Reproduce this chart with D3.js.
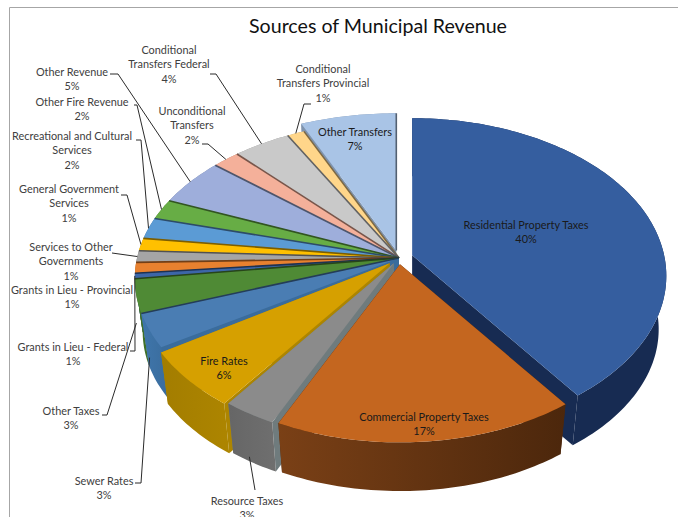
<!DOCTYPE html>
<html lang="en">
<head>
<meta charset="utf-8">
<title>Sources of Municipal Revenue</title>
<script src="https://d3js.org/d3.v7.min.js"></script>
<style>
  html, body { margin: 0; background: #fff; }
  text { font-family: Lato, "Open Sans", sans-serif; }
</style>
</head>
<body>
<div id="chart"></div>
<script>
// data, clockwise from 12 o'clock
var categories = ["Residential Property Taxes", "Commercial Property Taxes", "Resource Taxes", "Fire Rates",
  "Sewer Rates", "Other Taxes", "Grants in Lieu - Federal", "Grants in Lieu - Provincial",
  "Services to Other Governments", "General Government Services", "Recreational and Cultural Services",
  "Other Fire Revenue", "Other Revenue", "Unconditional Transfers", "Conditional Transfers Federal",
  "Conditional Transfers Provincial", "Other Transfers"];
var shares = [40, 17, 3, 6, 3.45, 3.45, 0.55, 1.1, 1.2, 1.3, 2.2, 2.1, 4.9, 1.9, 4, 1.2, 6.65];
var shareLabels = ["40%", "17%", "3%", "6%", "3%", "3%", "1%", "1%", "1%", "1%", "2%", "2%", "5%", "2%", "4%", "1%", "7%"];

var topColors = ["#355e9f", "#c4661f", "#8b8b8b", "#d6a000", "#4a7db3", "#4f8a35", "#3d66a8", "#e8812f",
  "#a5a5a5", "#ffc000", "#5b9bd5", "#67ad45", "#9eaedb", "#f4b09a", "#c9c9c9", "#ffd68a", "#a9c4e6"];
var wallColors = [["#172b52", "#172b52"], ["#7a4016", "#4c270c"], ["#666666", "#6f6f6f"], ["#a37d00", "#ad8500"],
  ["#3f76ac", "#3a6c9c"], ["#3f7029", "#3f7029"], ["#2f4f85", "#2f4f85"], ["#b0601f", "#b0601f"],
  ["#7d7d7d", "#7d7d7d"], ["#bf9000", "#bf9000"], ["#44749f", "#44749f"], ["#4d8234", "#4d8234"],
  ["#7683a5", "#7683a5"], ["#b78473", "#b78473"], ["#979797", "#979797"], ["#bfa067", "#bfa067"], ["#7f93ad", "#7f93ad"]];

var w = 678, h = 517;
var cx = 399, cy = 258;
var rxRight = 252, rxLeft = 262, ry = 155;
var persp = 0.13, depth = 54, bottomScale = 0.97;

// how far each slice is pulled out of the pie, as a part of the radius
var pull = [0.055, 0.04, 0.04, 0.05, 0, 0, 0, 0, 0, 0, 0, 0, 0, 0, 0, 0, 0.05];

var svg = d3.select("#chart").append("svg")
  .attr("width", w).attr("height", h)
  .style("display", "block");

var defs = svg.append("defs");

var pie = d3.pie().sort(null).startAngle(0).endAngle(2 * Math.PI).value(function (d) { return d; });
var arcs = pie(shares).map(function (a, i) {
  a.i = i;
  a.mid = (a.startAngle + a.endAngle) / 2;
  a.rx = i > 3 ? rxLeft : rxRight;
  return a;
});

var scaleX = d3.scaleLinear().domain([-1, 1]);
var scaleY = d3.scaleLinear().domain([-1, 1]).range([ry, -ry]);

function flat(theta, k, rx) {
  var d = 1 + persp * k * Math.cos(theta);
  scaleX.range([-rx, rx]);
  return [scaleX(k * Math.sin(theta) / d), scaleY(k * Math.cos(theta) / d)];
}

// screen point of a slice at angle theta and radius part k, on the top or the bottom face
function project(a, theta, k, bottom) {
  var off = flat(a.mid, pull[a.i], a.rx);
  var p = flat(theta, k, a.rx);
  if (bottom) {
    return [cx + off[0] + p[0] * bottomScale, cy + off[1] + p[1] * bottomScale + depth];
  }
  return [cx + off[0] + p[0], cy + off[1] + p[1]];
}

function rim(a, bottom) {
  var n = Math.max(2, Math.ceil((a.endAngle - a.startAngle) / 0.02));
  return d3.range(n + 1).map(function (j) {
    return project(a, a.startAngle + (a.endAngle - a.startAngle) * j / n, 1, bottom);
  });
}

var line = d3.line();

// frame
svg.append("path").attr("d", line([[9.5, h], [9.5, 7.5], [w, 7.5]]))
  .attr("fill", "none").attr("stroke", "#a6a6a6").attr("stroke-width", 1);

svg.append("text").attr("x", 378).attr("y", 33).attr("text-anchor", "middle")
  .attr("font-size", 19.6).attr("fill", "#111").text("Sources of Municipal Revenue");

// slices, back to front
var order = arcs.slice().sort(function (p, q) { return Math.cos(q.mid) - Math.cos(p.mid); });

var pieG = svg.append("g");
order.forEach(function (a) {
  var g = pieG.append("g");
  var id = "wall" + a.i;
  var grad = defs.append("linearGradient").attr("id", id);
  grad.append("stop").attr("offset", "0%").attr("stop-color", wallColors[a.i][0]);
  grad.append("stop").attr("offset", "100%").attr("stop-color", wallColors[a.i][1]);

  [a.startAngle, a.endAngle].forEach(function (t) {
    g.append("path")
      .attr("d", line([project(a, t, 0), project(a, t, 1), project(a, t, 1, true), project(a, t, 0, true)]) + "Z")
      .attr("fill", a.i === 2 ? "#6f7b7d" : wallColors[a.i][1]);
  });
  g.append("path")
    .attr("d", line(rim(a).concat(rim(a, true).reverse())) + "Z")
    .attr("fill", "url(#" + id + ")");
  g.append("path")
    .attr("d", line([project(a, a.startAngle, 0)].concat(rim(a))) + "Z")
    .attr("fill", topColors[a.i]);
  // the dark seam between the narrow slices
  if (a.i >= 4) {
    g.append("path")
      .attr("d", line([project(a, a.endAngle, 1), project(a, a.endAngle, 0)]))
      .attr("stroke", d3.color(topColors[a.i]).darker(2)).attr("stroke-width", 1.6).attr("fill", "none");
  }
});

// leader lines: label end, elbow, then the slice
var leaders = [
  { i: 14, pts: [[210, 74], [216, 74]] },
  { i: 12, pts: [[110, 74], [118, 74]] },
  { i: 11, pts: [[134, 105], [137, 105]] },
  { i: 10, pts: [[136, 140], [141, 140]] },
  { i: 9, pts: [[121, 195], [127, 195]] },
  { i: 8, pts: [[112, 253]] },
  { i: 6, pts: [[130, 351], [135, 351]] },
  { i: 5, pts: [[102, 415], [107, 415]], drop: 0.5 },
  { i: 4, pts: [[135, 483], [141, 483]], drop: 0.5 },
  { i: 2, pts: [[255, 490]], drop: 0.8 },
  { i: 13, pts: [[202, 144], [208, 144]] },
  { i: 15, pts: [[311, 104], [304, 104]] }
];
leaders.forEach(function (l) {
  var a = arcs[l.i];
  var end = project(a, a.mid, 1);
  end[1] += (l.drop || 0) * depth;
  svg.append("path").attr("d", line(l.pts.concat([end])))
    .attr("fill", "none").attr("stroke", "#2b2b2b").attr("stroke-width", 1);
});

// data labels: wrapped name lines, then the share
var labels = [
  { i: 0, x: 526, y: 229, lines: ["Residential Property Taxes"], dark: true },
  { i: 1, x: 424, y: 421, lines: ["Commercial Property Taxes"], dark: true },
  { i: 2, x: 247, y: 505, lines: ["Resource Taxes"] },
  { i: 3, x: 224, y: 365, lines: ["Fire Rates"], dark: true },
  { i: 4, x: 104, y: 485, lines: ["Sewer Rates"] },
  { i: 5, x: 71, y: 415, lines: ["Other Taxes"] },
  { i: 6, x: 73, y: 351, lines: ["Grants in Lieu - Federal"] },
  { i: 7, x: 72, y: 294, lines: ["Grants in Lieu - Provincial"] },
  { i: 8, x: 71, y: 251, lines: ["Services to Other", "Governments"] },
  { i: 9, x: 69, y: 193, lines: ["General Government", "Services"] },
  { i: 10, x: 72, y: 140, lines: ["Recreational and Cultural", "Services"] },
  { i: 11, x: 82, y: 106, lines: ["Other Fire Revenue"] },
  { i: 12, x: 72, y: 76, lines: ["Other Revenue"] },
  { i: 13, x: 192, y: 115, lines: ["Unconditional", "Transfers"] },
  { i: 14, x: 169, y: 54, lines: ["Conditional", "Transfers Federal"] },
  { i: 15, x: 323, y: 73, lines: ["Conditional", "Transfers Provincial"] },
  { i: 16, x: 355, y: 136, lines: ["Other Transfers"], dark: true }
];
labels.forEach(function (l) {
  var t = svg.append("text").attr("text-anchor", "middle").attr("font-size", 10.9)
    .attr("fill", l.dark ? "#1a1a1a" : "#404040");
  l.lines.concat([shareLabels[l.i]]).forEach(function (s, j) {
    t.append("tspan").attr("x", l.x).attr("y", l.y + j * 14.3).text(s);
  });
});
</script>
</body>
</html>
